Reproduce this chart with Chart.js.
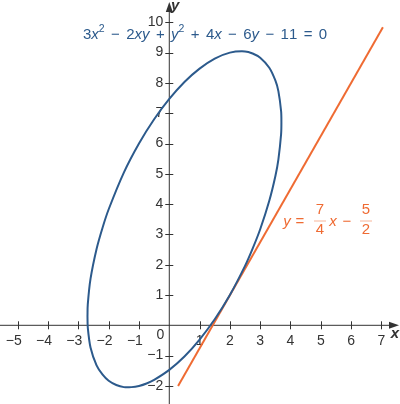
<!DOCTYPE html>
<html>
<head>
<meta charset="utf-8">
<script src="https://cdn.jsdelivr.net/npm/chart.js@4/dist/chart.umd.min.js"></script>
<style>
  html, body { margin: 0; padding: 0; background: #fff; }
  #wrap { width: 400px; height: 404px; }
</style>
</head>
<body>
<div id="wrap"><canvas id="myChart" width="400" height="404"></canvas></div>
<script>
// points on the ellipse, read around the curve (x, y)
const ellipseX = [-2.70, -2.69, -2.6, -2.4, -2.2, -2, -1.75, -1.5, -1.25, -1, -0.75, -0.5, 0, 0.5, 1, 1.5, 2, 2.5, 2.75, 3, 3.3, 3.5, 3.6, 3.69, 3.70,
                  3.69, 3.6, 3.5, 3.3, 3, 2.75, 2.5, 2, 1.5, 1, 0.5, 0, -0.5, -1, -1.5, -2, -2.2, -2.4, -2.6, -2.69, -2.70];
const ellipseY = [0.30, -0.07, -0.73, -1.32, -1.63, -1.83, -1.97, -2.04, -2.04, -2, -1.92, -1.80, -1.47, -1.03, -0.47, 0.20, 1, 1.96, 2.53, 3.17, 4.11, 4.92, 5.47, 6.31, 6.70,
                  7.07, 7.73, 8.08, 8.50, 8.83, 8.97, 9.04, 9, 8.80, 8.47, 8.03, 7.47, 6.80, 6, 5.04, 3.83, 3.23, 2.52, 1.53, 0.69, 0.30];

// tangent line end points
const lineX = [0.29, 7.05];
const lineY = [-2, 9.84];

// axis ticks
const xTicks = [-5, -4, -3, -2, -1, 1, 2, 3, 4, 5, 6, 7];
const yTicks = [-2, -1, 1, 2, 3, 4, 5, 6, 7, 8, 9, 10];

const blue = '#2c5a8c';
const orange = '#ef6b33';
const axisColor = '#333333';
const FONT = '"Liberation Sans", Arial, sans-serif';

const ellipsePoints = ellipseX.map((x, i) => ({ x: x, y: ellipseY[i] }));
const linePoints = lineX.map((x, i) => ({ x: x, y: lineY[i] }));

function pieceFont(p, size) {
    const s = p.sup ? size * 0.7 : size;
    return (p.italic ? 'italic ' : '') + s + 'px ' + FONT;
}

// draw text made of pieces (italic / superscript), stretched over a width
function drawPieces(ctx, pieces, x, y, size, color, targetW) {
    ctx.fillStyle = color;
    ctx.textBaseline = 'middle';
    ctx.textAlign = 'left';
    let natural = 0, spaces = 0;
    pieces.forEach(p => {
        ctx.font = pieceFont(p, size);
        natural += ctx.measureText(p.t).width;
        spaces += (p.t.match(/ /g) || []).length;
    });
    const extra = targetW && spaces ? (targetW - natural) / spaces : 0;
    let cx = x;
    pieces.forEach(p => {
        ctx.font = pieceFont(p, size);
        const dy = p.sup ? -size * 0.38 : 0;
        for (const ch of p.t) {
            if (ch === ' ') { cx += ctx.measureText(' ').width + extra; continue; }
            ctx.fillText(ch, cx, y + dy);
            cx += ctx.measureText(ch).width;
        }
    });
    return cx;
}

const axesPlugin = {
    id: 'axes',
    beforeDatasetsDraw(chart) {
        const ctx = chart.ctx;
        const xs = chart.scales.x;
        const ys = chart.scales.y;
        const x0 = xs.getPixelForValue(0);
        const y0 = ys.getPixelForValue(0);
        ctx.save();
        ctx.strokeStyle = axisColor;
        ctx.fillStyle = axisColor;
        ctx.lineWidth = 1;
        // axes
        ctx.beginPath();
        ctx.moveTo(0, y0); ctx.lineTo(392, y0);
        ctx.moveTo(x0, 404); ctx.lineTo(x0, 10);
        ctx.stroke();
        // arrows
        ctx.beginPath();
        ctx.moveTo(399, y0); ctx.lineTo(389, y0 - 3.5); ctx.lineTo(389, y0 + 3.5); ctx.closePath();
        ctx.fill();
        ctx.beginPath();
        ctx.moveTo(x0, 2); ctx.lineTo(x0 - 3.5, 12); ctx.lineTo(x0 + 3.5, 12); ctx.closePath();
        ctx.fill();
        // tick marks
        ctx.beginPath();
        xTicks.forEach(v => {
            const px = Math.round(xs.getPixelForValue(v)) + 0.5;
            ctx.moveTo(px, y0 - 4); ctx.lineTo(px, y0 + 4);
        });
        yTicks.forEach(v => {
            const py = Math.round(ys.getPixelForValue(v)) + 0.5;
            ctx.moveTo(x0 - 4, py); ctx.lineTo(x0 + 4, py);
        });
        ctx.stroke();
        // tick labels
        ctx.font = '14px ' + FONT;
        ctx.textBaseline = 'middle';
        const digitW = ctx.measureText('0').width;
        ctx.textAlign = 'right';
        xTicks.forEach(v => {
            const px = xs.getPixelForValue(v);
            const label = v < 0 ? '\u2212' + Math.abs(v) : String(v);
            ctx.fillText(label, px + digitW / 2, y0 + 16);
        });
        yTicks.forEach(v => {
            const py = ys.getPixelForValue(v);
            const label = v < 0 ? '\u2212' + Math.abs(v) : String(v);
            ctx.fillText(label, x0 - 6, py);
        });
        ctx.fillText('0', x0 - 5, y0 + 10);
        // axis names
        ctx.font = 'italic bold 15px ' + FONT;
        ctx.textAlign = 'center';
        ctx.fillText('x', 395, y0 + 9);
        ctx.fillText('y', x0 + 6, 6);
        ctx.restore();
    },
    afterDatasetsDraw(chart) {
        const ctx = chart.ctx;
        ctx.save();
        // ellipse equation
        drawPieces(ctx, [
            { t: '3' }, { t: 'x', italic: true }, { t: '2', sup: true },
            { t: ' \u2212 2' }, { t: 'xy', italic: true }, { t: ' + ' },
            { t: 'y', italic: true }, { t: '2', sup: true },
            { t: ' + 4' }, { t: 'x', italic: true },
            { t: ' \u2212 6' }, { t: 'y', italic: true },
            { t: ' \u2212 11 = 0' }
        ], 83, 35, 15, blue, 243);

        // tangent line equation
        ctx.fillStyle = orange;
        ctx.textBaseline = 'middle';
        ctx.textAlign = 'center';
        ctx.font = 'italic 15px ' + FONT;
        ctx.fillText('y', 287, 222);
        ctx.fillText('x', 333, 222);
        ctx.font = '15px ' + FONT;
        ctx.fillText('=', 300, 222);
        ctx.fillText('\u2212', 347, 222);
        ctx.fillText('7', 320, 210);
        ctx.fillText('4', 320, 230);
        ctx.fillText('5', 366, 210);
        ctx.fillText('2', 366, 230);
        ctx.globalAlpha = 0.5;
        ctx.fillRect(314, 220.5, 12, 1);
        ctx.fillRect(360, 220.5, 12, 1);
        ctx.restore();
    }
};

const ctx = document.getElementById('myChart').getContext('2d');
const myChart = new Chart(ctx, {
    type: 'scatter',
    data: {
        datasets: [
            {
                data: ellipsePoints,
                showLine: true,
                borderColor: blue,
                borderWidth: 2,
                pointRadius: 0,
                tension: 0.3,
                fill: false
            },
            {
                data: linePoints,
                showLine: true,
                borderColor: orange,
                borderWidth: 2,
                pointRadius: 0,
                fill: false
            }
        ]
    },
    options: {
        responsive: false,
        devicePixelRatio: 1,
        animation: false,
        layout: { padding: 0 },
        plugins: { legend: { display: false }, tooltip: { enabled: false } },
        scales: {
            x: { type: 'linear', display: false, min: -5.587, max: 7.614 },
            y: { type: 'linear', display: false, min: -2.597, max: 10.736 }
        }
    },
    plugins: [axesPlugin]
});
</script>
</body>
</html>
